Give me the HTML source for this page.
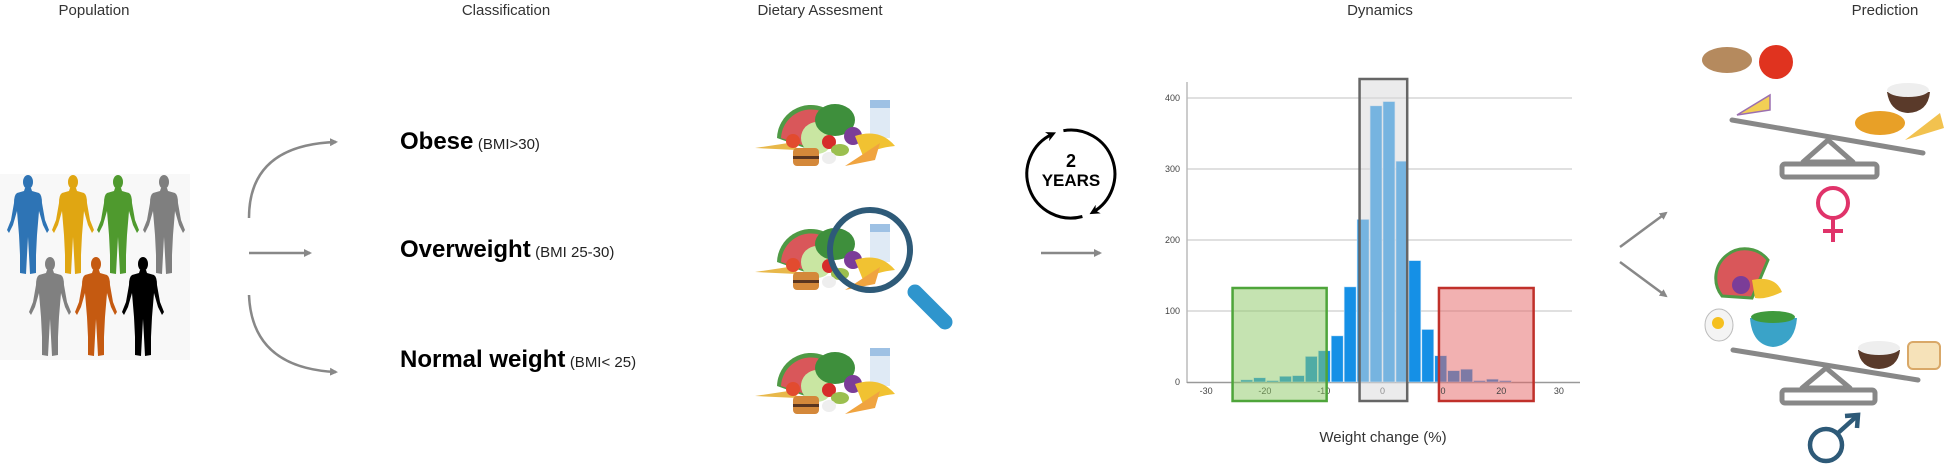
<!DOCTYPE html>
<html><head><meta charset="utf-8">
<style>
html,body{margin:0;padding:0;background:#fff;}
body{width:1946px;height:466px;position:relative;overflow:hidden;font-family:"Liberation Sans",sans-serif;}
.hdr{position:absolute;top:2px;font-size:15px;color:#333;transform:translateX(-50%);white-space:nowrap;}
.cls{position:absolute;left:400px;white-space:nowrap;color:#000;transform:translateY(-50%);}
.cls b{font-size:24px;font-weight:bold;}
.cls span{font-size:15px;color:#222;}
svg{position:absolute;left:0;top:0;}
</style></head>
<body>
<div class="hdr" style="left:94px">Population</div>
<div class="hdr" style="left:506px">Classification</div>
<div class="hdr" style="left:820px">Dietary Assesment</div>
<div class="hdr" style="left:1380px">Dynamics</div>
<div class="hdr" style="left:1885px">Prediction</div>

<div class="cls" style="top:142px"><b>Obese</b> <span>(BMI&gt;30)</span></div>
<div class="cls" style="top:250px"><b>Overweight</b> <span>(BMI 25-30)</span></div>
<div class="cls" style="top:360px"><b>Normal weight</b> <span>(BMI&lt; 25)</span></div>

<svg width="1946" height="466" viewBox="0 0 1946 466">
<defs>
<marker id="ah" markerWidth="8" markerHeight="8" refX="6" refY="4" orient="auto" markerUnits="userSpaceOnUse"><path d="M0,0 L8,4 L0,8 Z" fill="#888"/></marker>
<marker id="ahb" markerWidth="10" markerHeight="10" refX="6" refY="5" orient="auto" markerUnits="userSpaceOnUse"><path d="M0,0 L10,5 L0,10 L3,5 Z" fill="#000"/></marker>
<symbol id="person" viewBox="-22 0 44 100" width="44" height="100">
<ellipse cx="0" cy="7" rx="5" ry="7"/>
<path d="M-3,13 L3,13 L4,16 L11,18 Q14,20 14,28 L17,45 L21,55 L19,58 L15,50 L11,36 L10,48 L9,60 L8,80 L8,98 L2,99 L1,80 L0,62 L-1,80 L-2,99 L-8,98 L-8,80 L-9,60 L-10,48 L-11,36 L-15,50 L-19,58 L-21,55 L-17,45 L-14,28 Q-14,20 -11,18 L-4,16 Z"/>
</symbol>
<symbol id="food" viewBox="0 0 145 70" width="145" height="70">
<path d="M0,50 L40,44 L42,52 Z" fill="#e8b84a"/>
<path d="M22,40 A34,34 0 0 1 70,10 L50,50 Z" fill="#4f9a45"/>
<path d="M26,40 A30,30 0 0 1 68,14 L50,48 Z" fill="#d9575a"/>
<circle cx="62" cy="40" r="16" fill="#c9e6a2"/>
<ellipse cx="80" cy="22" rx="20" ry="16" fill="#3e8f3c"/>
<rect x="115" y="2" width="20" height="38" fill="#dfeaf5"/>
<rect x="115" y="2" width="20" height="8" fill="#9ec1e4"/>
<circle cx="98" cy="38" r="9" fill="#7b3d98"/>
<path d="M100,38 Q125,30 140,48 Q120,50 108,58 Z" fill="#f1c232"/>
<circle cx="38" cy="43" r="7" fill="#e24b2f"/>
<circle cx="74" cy="44" r="7" fill="#d62c2a"/>
<ellipse cx="85" cy="52" rx="9" ry="6" fill="#9bbf4f"/>
<ellipse cx="74" cy="60" rx="7" ry="6" fill="#eee"/>
<rect x="38" y="50" width="26" height="18" rx="4" fill="#d4883a"/>
<rect x="38" y="58" width="26" height="3" fill="#5a3520"/>
<path d="M90,68 L125,45 L120,62 Z" fill="#f0a440"/>
</symbol>
</defs>

<g>
<rect x="0" y="174" width="190" height="186" fill="#f8f8f8"/>
<use href="#person" x="6" y="175" fill="#2e74b5"/>
<use href="#person" x="51" y="175" fill="#e0a612"/>
<use href="#person" x="96" y="175" fill="#4f9a2e"/>
<use href="#person" x="142" y="175" fill="#7f7f7f"/>
<use href="#person" x="28" y="257" fill="#808080"/>
<use href="#person" x="74" y="257" fill="#c55a11"/>
<use href="#person" x="121" y="257" fill="#000"/>
</g>

<g stroke="#888" stroke-width="2.5" fill="none">
<path d="M249,218 Q249,145 336,142" marker-end="url(#ah)"/>
<line x1="249" y1="253" x2="310" y2="253" marker-end="url(#ah)"/>
<path d="M249,295 Q252,368 336,372" marker-end="url(#ah)"/>
</g>

<use href="#food" x="755" y="98"/>
<use href="#food" x="755" y="222"/>
<use href="#food" x="755" y="346"/>
<g>
<circle cx="870" cy="250" r="40" fill="none" stroke="#2e5a78" stroke-width="6"/>
<line x1="915" y1="292" x2="945" y2="322" stroke="#2f95cd" stroke-width="15" stroke-linecap="round"/>
</g>

<g>
<path d="M1082.4,216.5 A44,44 0 0 1 1052.4,134.1" fill="none" stroke="#000" stroke-width="3" marker-end="url(#ahb)"/>
<path d="M1063.4,130.7 A44,44 0 0 1 1093,212.1" fill="none" stroke="#000" stroke-width="3" marker-end="url(#ahb)"/>
<text x="1071" y="167" text-anchor="middle" font-size="18" font-weight="bold" font-family="Liberation Sans, sans-serif">2</text>
<text x="1071" y="186" text-anchor="middle" font-size="17" font-weight="bold" font-family="Liberation Sans, sans-serif">YEARS</text>
</g>
<line x1="1041" y1="253" x2="1100" y2="253" stroke="#888" stroke-width="2.5" marker-end="url(#ah)"/>

<g id="chart"></g>

<g stroke="#888" stroke-width="2.5" fill="none">
<line x1="1620" y1="247" x2="1666" y2="213" marker-end="url(#ah)"/>
<line x1="1620" y1="262" x2="1666" y2="296" marker-end="url(#ah)"/>
</g>

<g>
<ellipse cx="1727" cy="60" rx="25" ry="13" fill="#b58a5e"/>
<circle cx="1776" cy="62" r="17" fill="#e0331f"/>
<path d="M1737,115 L1770,95 L1770,110 Z" fill="#f2cf55" stroke="#9b6fb0" stroke-width="1.5"/>
<path d="M1887,92 L1930,92 Q1928,112 1908,113 Q1890,112 1887,92 Z" fill="#5a3a2a"/>
<ellipse cx="1908" cy="90" rx="21" ry="7" fill="#eee"/>
<ellipse cx="1880" cy="123" rx="25" ry="12" fill="#e8a027"/>
<path d="M1905,140 L1940,113 L1944,128 Z" fill="#f2c24f"/>
<line x1="1732" y1="120" x2="1923" y2="153" stroke="#888" stroke-width="5" stroke-linecap="round"/>
<path d="M1828,140 L1803,162 L1853,162 Z" fill="none" stroke="#888" stroke-width="5" stroke-linejoin="round"/>
<rect x="1782" y="164" width="95" height="13" rx="3" fill="none" stroke="#888" stroke-width="5"/>
<g stroke="#e0336a" stroke-width="4" fill="none">
<circle cx="1833" cy="203" r="15"/>
<line x1="1833" y1="218" x2="1833" y2="242"/>
<line x1="1823" y1="231" x2="1843" y2="231"/>
</g>
</g>

<g>
<path d="M1722,296 A28,28 0 0 1 1768,260 L1752,298 Z" fill="#d9575a" stroke="#4f9a45" stroke-width="3"/>
<circle cx="1741" cy="285" r="9" fill="#7b3d98"/>
<path d="M1752,280 Q1775,275 1782,292 Q1765,300 1755,298 Z" fill="#f1c232"/>
<ellipse cx="1719" cy="325" rx="14" ry="16" fill="#f4f4f4" stroke="#bbb"/>
<circle cx="1718" cy="323" r="6" fill="#f5c020"/>
<path d="M1750,318 L1797,318 Q1795,345 1773,347 Q1752,345 1750,318 Z" fill="#3aa3c8"/>
<ellipse cx="1773" cy="317" rx="22" ry="6" fill="#3f9a3c"/>
<path d="M1858,350 L1900,350 Q1898,368 1879,369 Q1860,368 1858,350 Z" fill="#5a3a2a"/>
<ellipse cx="1879" cy="348" rx="21" ry="7" fill="#eee"/>
<rect x="1908" y="342" width="32" height="27" rx="5" fill="#f6e2b9" stroke="#d9a868" stroke-width="2"/>
<line x1="1733" y1="350" x2="1918" y2="380" stroke="#888" stroke-width="5" stroke-linecap="round"/>
<path d="M1826,368 L1802,388 L1850,388 Z" fill="none" stroke="#888" stroke-width="5" stroke-linejoin="round"/>
<rect x="1782" y="390" width="93" height="13" rx="3" fill="none" stroke="#888" stroke-width="5"/>
<g stroke="#2e5a78" stroke-width="4.5" fill="none">
<circle cx="1826" cy="445" r="16"/>
<line x1="1838" y1="433" x2="1857" y2="416"/>
<path d="M1845,416 L1858,415 L1857,428"/>
</g>
</g>
</svg>

<script>
const binLeft = [-24.2,-22,-19.8,-17.6,-15.4,-13.2,-11,-8.8,-6.6,-4.4,-2.2,0,2.2,4.4,6.6,8.8,11,13.2,15.4,17.6,19.8];
const binWidth = 2.2;
const counts = [3,6,2,8,9,36,44,65,134,229,389,395,311,171,74,37,16,18,2,4,2];
const yTicks = [0,100,200,300,400];
const xTickValues = [-30,-20,-10,0,30];
const xTickLabels = ['-30','-20','-10','0','30'];
const redTickValues = [10.3,20.2];
const redTickLabels = ['0','20'];
const greenRange = [-25.5,-9.5];
const grayRange = [-3.9,4.2];
const redRange = [9.6,25.7];

const NS = "http://www.w3.org/2000/svg";
const g = document.getElementById('chart');
const X = v => 1382.5 + v * 5.88;
const Y = v => 382 - v * 0.71;
function mk(tag, attrs){const e=document.createElementNS(NS,tag);for(const k in attrs)e.setAttribute(k,attrs[k]);g.appendChild(e);return e;}

yTicks.forEach(t=>{
  if(t>0){const l=mk('line',{x1:1187,x2:1572,y1:Y(t),y2:Y(t),stroke:'#d6d6d6','stroke-width':1.5});
  
  }
  const tx=mk('text',{x:1180,y:Y(t)+3,'text-anchor':'end','font-size':9,fill:'#444','font-family':'Liberation Sans, sans-serif'});
  tx.textContent=t;
  
  
});
const ax=mk('line',{x1:1187,x2:1187,y1:82,y2:383,stroke:'#bbb','stroke-width':1.5});


const bx=mk('line',{x1:1187,x2:1580,y1:382.5,y2:382.5,stroke:'#999','stroke-width':1.5});



counts.forEach((c,i)=>{
  const r=mk('rect',{x:X(binLeft[i])+0.5,y:Y(c),width:binWidth*5.88-1,height:Y(0)-Y(c),fill:'#1590e6',stroke:'#cfe6f8','stroke-width':0.6});
  
  
});

function tick(v,lab){
  const tx=mk('text',{x:X(v),y:394,'text-anchor':'middle','font-size':9,fill:'#444','font-family':'Liberation Sans, sans-serif'});
  tx.textContent=lab;
  
  
}
xTickValues.forEach((v,i)=>tick(v,xTickLabels[i]));

function box(r,y0,fill,stroke,name){
  const b=mk('rect',{x:X(r[0]),y:y0,width:X(r[1])-X(r[0]),height:401-y0,fill:fill,stroke:stroke,'stroke-width':2.5});
  
  
}
box(greenRange,288,'rgba(140,200,100,0.5)','#4ea53a','weight-loss-box');
box(grayRange,79,'rgba(215,215,218,0.5)','#666','stable-weight-box');
box(redRange,288,'rgba(230,100,100,0.5)','#c0302a','weight-gain-box');

redTickValues.forEach((v,i)=>tick(v,redTickLabels[i]));

const xt=mk('text',{x:1383,y:442,'text-anchor':'middle','font-size':15,fill:'#333','font-family':'Liberation Sans, sans-serif'});
xt.textContent='Weight change (%)';


</script>
</body></html>
